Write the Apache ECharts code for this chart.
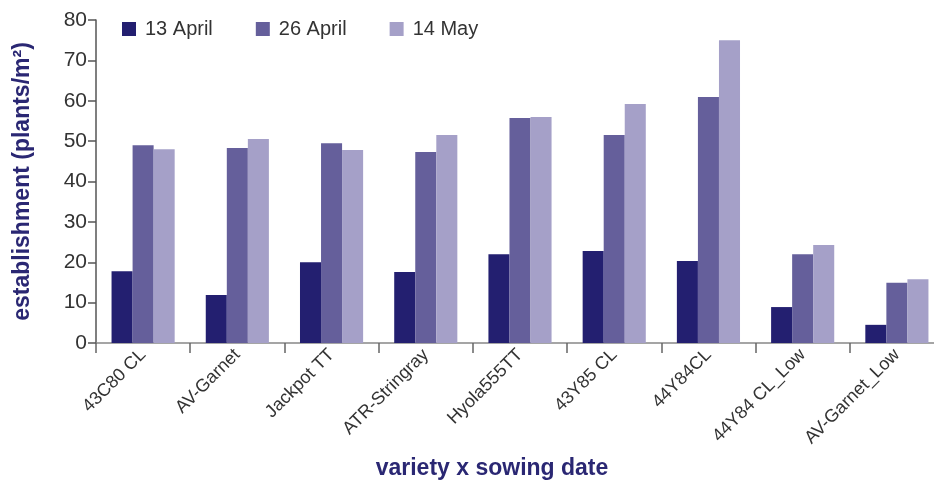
<!DOCTYPE html>
<html><head><meta charset="utf-8">
<script src="https://cdn.jsdelivr.net/npm/echarts@6/dist/echarts.min.js"></script>
<style>html,body{margin:0;padding:0;background:#fff}#c{width:934px;height:482px}</style>
</head><body><div id="c"></div>
<script>
const categories = ['43C80 CL','AV-Garnet','Jackpot TT','ATR-Stringray','Hyola555TT','43Y85 CL','44Y84CL','44Y84 CL_Low','AV-Garnet_Low'];
const seriesNames = ['13 April','26 April','14 May'];
const april13 = [17.8, 11.9, 20.0, 17.6, 22.0, 22.8, 20.3, 8.9, 4.5];
const april26 = [49.0, 48.3, 49.5, 47.3, 55.7, 51.5, 60.9, 22.0, 14.9];
const may14 = [48.0, 50.5, 47.8, 51.5, 56.0, 59.2, 75.0, 24.3, 15.8];
const yTicks = [0, 10, 20, 30, 40, 50, 60, 70, 80];

const colors = ['#231f70', '#655f9b', '#a5a0c8'];
const font = 'Liberation Sans, Arial, sans-serif';
const chart = echarts.init(document.getElementById('c'));
const data = [april13, april26, may14];
chart.setOption({
  animation: false,
  textStyle: {fontFamily: font},
  title: {
    text: 'variety x sowing date', left: 487, top: 452, textAlign: 'center',
    textStyle: {fontSize: 23, fontWeight: 'bold', color: '#2a2773', fontFamily: font}
  },
  legend: {
    top: 14, left: 117, itemGap: 43, itemWidth: 14, itemHeight: 14,
    icon: 'rect',
    textStyle: {fontSize: 20, color: '#333', fontFamily: font, padding: [0, 0, 0, 4]},
    data: seriesNames
  },
  grid: {left: 96, top: 20, width: 848, height: 323, containLabel: false, outerBoundsMode: 'none'},
  xAxis: {
    type: 'category', data: categories,
    axisLine: {lineStyle: {color: '#888', width: 1.5}},
    axisTick: {show: true, length: 10, lineStyle: {color: '#666', width: 1.5}, alignWithLabel: false},
    axisLabel: {rotate: 45, fontSize: 18, color: '#333', margin: 9, interval: 0, fontFamily: font}
  },
  yAxis: {
    type: 'value', min: yTicks[0], max: yTicks[yTicks.length-1], interval: 10,
    name: 'establishment (plants/m²)', nameLocation: 'middle', nameGap: 62,
    nameTextStyle: {fontSize: 23, fontWeight: 'bold', color: '#2a2773', fontFamily: font},
    axisLine: {show: true, lineStyle: {color: '#555', width: 1.5}},
    axisTick: {show: true, length: 8, lineStyle: {color: '#555', width: 1.5}},
    splitLine: {show: false},
    axisLabel: {fontSize: 21, color: '#333', margin: 9, fontFamily: font}
  },
  series: seriesNames.map((n, i) => ({
    name: n, type: 'bar', data: data[i],
    barGap: '0%', barCategoryGap: '33%',
    itemStyle: {color: colors[i]}
  }))
});
</script></body></html>
